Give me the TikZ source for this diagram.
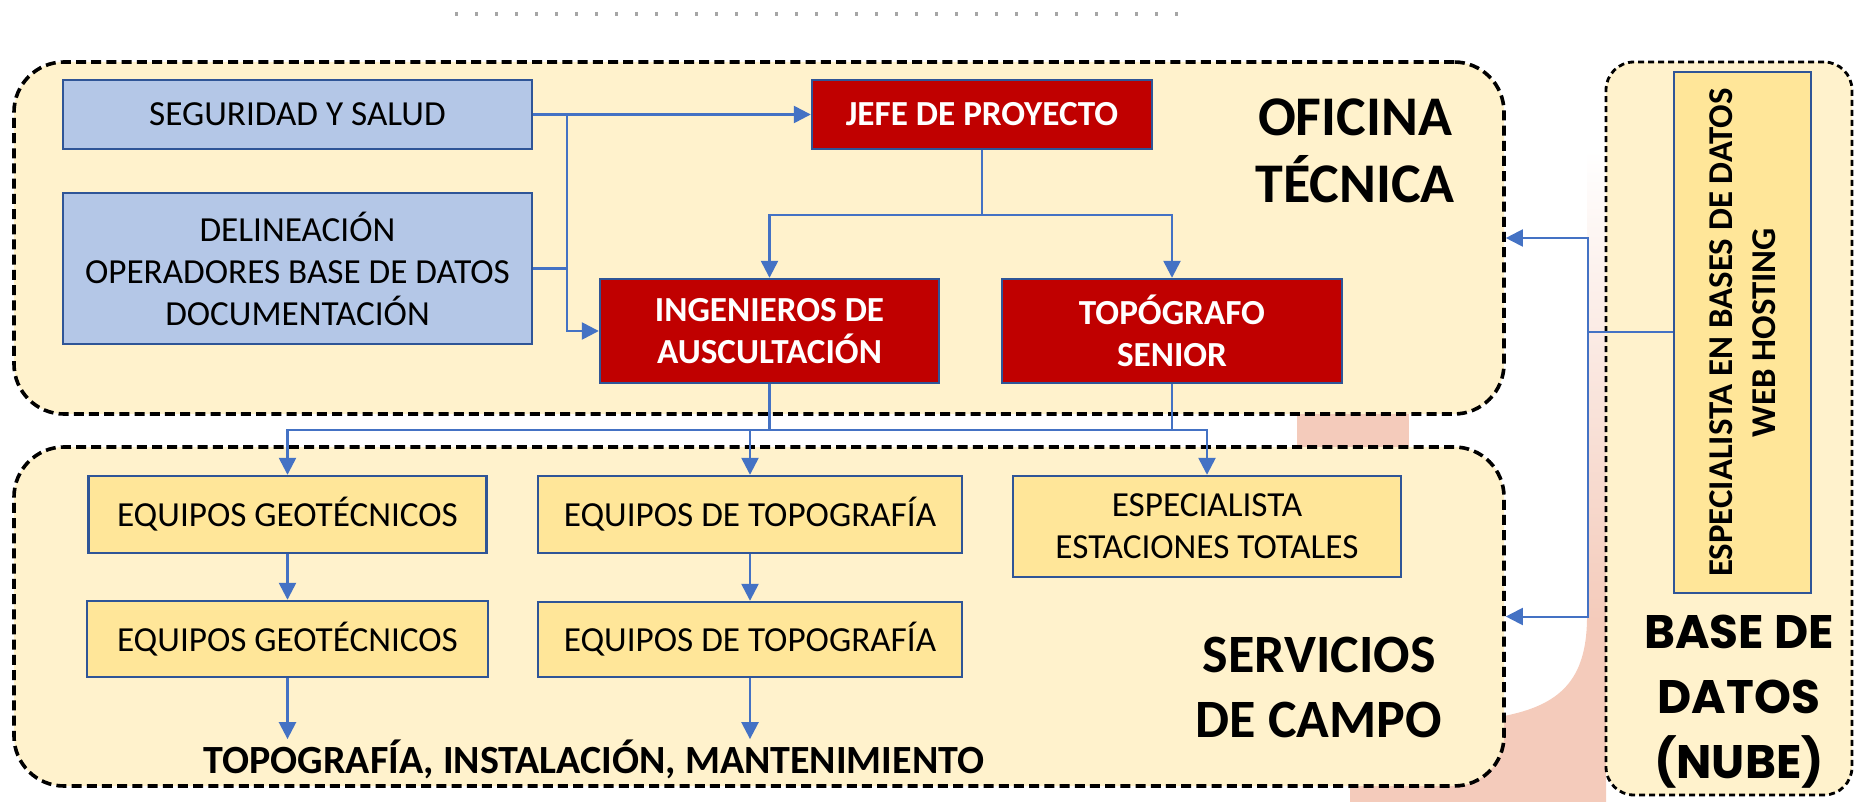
\documentclass[tikz,border=0pt]{standalone}
\usepackage{fontspec}
\setmainfont{Carlito}
\newfontfamily\popp{Poppins}
\usetikzlibrary{shapes,arrows.meta}
\definecolor{crema}{HTML}{FFF2CC}
\definecolor{celeste}{HTML}{B4C7E7}
\definecolor{granate}{HTML}{C00000}
\definecolor{oro}{HTML}{FFE699}
\definecolor{borde}{HTML}{2F5597}
\definecolor{linea}{HTML}{4472C4}
\definecolor{rosa}{HTML}{F4CBBB}
\tikzstyle{zona}=[draw=black,line width=1.8pt,dash pattern=on 5pt off 2.6pt,fill=crema,rounded corners=25pt,inner sep=0pt]
\tikzstyle{caja}=[draw=borde,line width=1.2pt,fill=celeste,inner sep=0pt,align=center,font=\fontsize{17.6}{21}\selectfont]
\tikzstyle{mando}=[caja,fill=granate,text=white,font=\fontsize{17.6}{21}\selectfont\bfseries]
\tikzstyle{equipo}=[caja,fill=oro]
\tikzstyle{titulo}=[align=center,inner sep=0pt,font=\fontsize{28}{33.5}\selectfont\bfseries]
\tikzstyle{enlace}=[draw=linea,line width=1.25pt]
\tikzstyle{flecha}=[enlace,-{Triangle[length=8.5pt,width=8.5pt]}]

\begin{document}
\begin{tikzpicture}[x=0.5pt,y=-0.5pt]
\useasboundingbox (0,0) rectangle (1854,802);
\draw[gray!70,line width=2pt,dash pattern=on 1.5pt off 8.5pt] (455,14) -- (1182,14);

\fill[rosa] (1297,380) rectangle (1409,480);
\fill[rosa] (1350,802) -- (1350,740) -- (1504,740) -- (1504,716) .. controls (1560,705) and (1586,680) .. (1587,620) -- (1606,620) -- (1606,802) -- cycle;
\shade[top color=white,bottom color=rosa] (1587,150) rectangle (1606,621);

\node[zona,minimum width=745pt,minimum height=176pt] (ofi) at (759,238) {};
\node[zona,minimum width=745pt,minimum height=169.5pt] (serv) at (759,616.5) {};
\node[zona,line width=1.4pt,dash pattern=on 3pt off 2pt,rounded corners=14pt,minimum width=123pt,minimum height=366.5pt] (nube) at (1729,428.5) {};

\node[caja,minimum width=234.5pt,minimum height=34.5pt] (seg) at (297.5,114.5) {SEGURIDAD Y SALUD};
\node[caja,minimum width=234.5pt,minimum height=75.5pt] (del) at (297.5,268.5) {DELINEACIÓN\\OPERADORES BASE DE DATOS\\DOCUMENTACIÓN};
\node[mando,minimum width=170pt,minimum height=34.5pt] (jefe) at (982,114.5) {JEFE DE PROYECTO};
\node[mando,minimum width=169.5pt,minimum height=52pt] (ing) at (769.5,331) {INGENIEROS DE\\AUSCULTACIÓN};
\node[mando,minimum width=170pt,minimum height=52pt] (topo) at (1172,331) {TOPÓGRAFO\\SENIOR};
\node[titulo] (tofi) at (1355,151) {OFICINA\\TÉCNICA};

\node[equipo,minimum width=199pt,minimum height=38.5pt] (geo1) at (287.5,514.5) {EQUIPOS GEOTÉCNICOS};
\node[equipo,minimum width=200.5pt,minimum height=38pt] (geo2) at (287.5,639) {EQUIPOS GEOTÉCNICOS};
\node[equipo,minimum width=212pt,minimum height=38.5pt] (topo1) at (750,514.5) {EQUIPOS DE TOPOGRAFÍA};
\node[equipo,minimum width=212pt,minimum height=37.5pt] (topo2) at (750,639.5) {EQUIPOS DE TOPOGRAFÍA};
\node[equipo,minimum width=194pt,minimum height=50.5pt] (esp) at (1207,526.5) {ESPECIALISTA\\ESTACIONES TOTALES};
\node[font=\fontsize{20}{23}\selectfont\bfseries,inner sep=0pt] (tareas) at (594,759) {TOPOGRAFÍA, INSTALACIÓN, MANTENIMIENTO};
\node[titulo,font=\fontsize{27}{32.5}\selectfont\bfseries] (tserv) at (1319,687) {SERVICIOS\\DE CAMPO};

\node[equipo,rotate=90,font=\fontsize{17.4}{21.5}\selectfont\bfseries,minimum width=260.5pt,minimum height=68.5pt] (espbd) at (1742.5,332.5) {ESPECIALISTA EN BASES DE DATOS\\WEB HOSTING};
\node[align=center,inner sep=0pt,font=\popp\fontsize{23.5}{32.5}\selectfont\bfseries] (tnube) at (1739,702) {BASE DE\\DATOS\\(NUBE)};

\draw[flecha] (seg.east) -- (jefe.west);
\draw[flecha] (seg.east) -- ++(34,0) |- (ing.west);
\draw[enlace] (del.east) -- ++(34,0);
\draw[flecha] (jefe.south) -- ++(0,65) -| (ing.north);
\draw[flecha] (jefe.south) -- ++(0,65) -| (topo.north);
\draw[flecha] (ing.south) -- ++(0,46) -| (geo1.north);
\draw[flecha] (ing.south) -- ++(0,46) -| (topo1.north);
\draw[enlace] (ing.south) ++(0,46) -| (topo.south);
\draw[flecha] (topo.south) -- ++(0,46) -| (esp.north);
\draw[flecha] (geo1.south) -- (geo2.north);
\draw[flecha] (topo1.south) -- (topo2.north);
\draw[flecha] (geo2.south) -- (geo2.south |- tareas.north);
\draw[flecha] (topo2.south) -- (topo2.south |- tareas.north);
\draw[flecha,line width=1pt] (espbd.north) -- ++(-85,0) |- (ofi.east);
\draw[flecha,line width=1pt] (espbd.north) -- ++(-85,0) |- (serv.east);
\end{tikzpicture}
\end{document}
